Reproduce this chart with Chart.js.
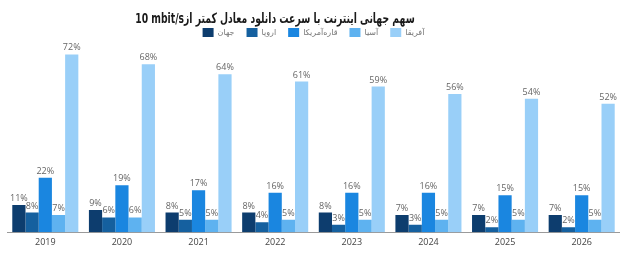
<!DOCTYPE html>
<html>
<head>
<meta charset="utf-8">
<script src="https://cdn.jsdelivr.net/npm/chart.js@4.4.1/dist/chart.umd.min.js"></script>
<style>
  html, body { margin: 0; padding: 0; background: #fff; }
  #wrap { position: relative; width: 620px; height: 270px; }
</style>
</head>
<body>
<div id="wrap"><canvas id="c" width="620" height="270"></canvas></div>
<script>
'use strict';
// ---- data ----
var years = ['2019', '2020', '2021', '2022', '2023', '2024', '2025', '2026'];
var world   = [11, 9, 8, 8, 8, 7, 7, 7];
var europe  = [8, 6, 5, 4, 3, 3, 2, 2];
var america = [22, 19, 17, 16, 16, 16, 15, 15];
var asia    = [7, 6, 5, 5, 5, 5, 5, 5];
var africa  = [72, 68, 64, 61, 59, 56, 54, 52];
var seriesNames = ['جهان', 'اروپا', 'قاره‌آمریکا', 'آسیا', 'آفریقا'];
// LRM keeps "10 mbit/s" together as one left-to-right run
var titleText = 'سهم جهانی اینترنت با سرعت دانلود معادل کمتر از\u200E10 mbit/s';

var COLORS = ['#0d3d6e', '#15609f', '#1a86e0', '#5eb2f0', '#99cff8'];
var FONT = "'Open Sans', 'DejaVu Sans', sans-serif";

var datasets = [world, europe, america, asia, africa].map(function(vals, i) {
  return { label: seriesNames[i], data: vals, backgroundColor: COLORS[i], borderWidth: 0,
           barPercentage: 1.0, categoryPercentage: 0.862 };
});

// title drawn by hand so it can sit off-centre like the original;
// DejaVu's Arabic is wide, so squeeze it horizontally a bit
var titlePlugin = {
  id: 'rtlTitle',
  afterDraw: function(chart) {
    var ctx = chart.ctx;
    ctx.save();
    ctx.font = "bold 14px 'DejaVu Sans', sans-serif";
    ctx.fillStyle = '#1a1a1a';
    ctx.direction = 'rtl';
    ctx.textAlign = 'center';
    ctx.textBaseline = 'middle';
    ctx.translate(275, 19);
    ctx.scale(0.66, 1);
    ctx.fillText(titleText, 0, 0);
    ctx.restore();
  }
};

// value labels above the bars
var valuePlugin = {
  id: 'valueLabels',
  afterDatasetsDraw: function(chart) {
    var ctx = chart.ctx;
    ctx.save();
    ctx.font = '9px ' + FONT;
    ctx.fillStyle = '#666';
    ctx.textAlign = 'center';
    ctx.textBaseline = 'bottom';
    chart.data.datasets.forEach(function(ds, i) {
      chart.getDatasetMeta(i).data.forEach(function(bar, j) {
        ctx.fillText(ds.data[j] + '%', bar.x, bar.y - 2);
      });
    });
    ctx.restore();
  }
};

new Chart(document.getElementById('c'), {
  type: 'bar',
  data: { labels: years, datasets: datasets },
  plugins: [titlePlugin, valuePlugin],
  options: {
    responsive: false, animation: false,
    layout: { padding: { top: 16, left: 7, right: 0, bottom: 25 } },
    plugins: {
      legend: {
        position: 'top',
        labels: { color: '#777', font: { family: FONT, size: 8 }, boxWidth: 11, boxHeight: 9, padding: 12 }
      },
      tooltip: { enabled: false }
    },
    scales: {
      x: {
        grid: { display: false },
        border: { color: '#9a9a9a', width: 1 },
        ticks: { color: '#444', font: { family: FONT, size: 9 }, padding: -3 }
      },
      y: { display: false, min: 0, max: 75 }
    }
  }
});
</script>
</body>
</html>
